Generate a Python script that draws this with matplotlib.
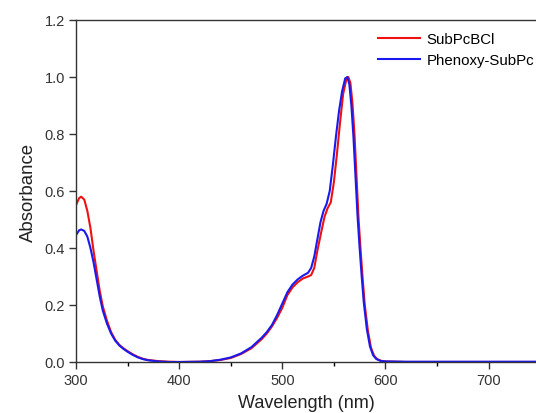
import matplotlib
matplotlib.use("Agg")
import matplotlib.pyplot as plt
from matplotlib.ticker import MultipleLocator

plt.rcParams["font.family"] = ["Liberation Sans", "DejaVu Sans"]

# SubPcBCl absorbance
wl_red = [300, 303, 305, 308, 311, 314, 317, 320, 323, 326, 330, 334, 338, 342,
          346, 350, 355, 360, 365, 370, 380, 390, 400, 420, 430, 440, 450, 460,
          470, 480, 485, 490, 495, 500, 505, 510, 515, 520, 525, 528, 531, 534,
          538, 541, 544, 547, 550, 553, 556, 559, 562, 564, 566, 568, 570, 572,
          574, 576, 578, 580, 583, 586, 589, 592, 596, 600, 620, 750]
abs_red = [0.55, 0.575, 0.58, 0.57, 0.53, 0.47, 0.39, 0.32, 0.25, 0.195, 0.145,
           0.105, 0.078, 0.06, 0.048, 0.038, 0.027, 0.018, 0.011, 0.007, 0.003,
           0.001, 0.0, 0.001, 0.003, 0.007, 0.014, 0.028, 0.048, 0.08, 0.1,
           0.125, 0.155, 0.19, 0.235, 0.262, 0.28, 0.293, 0.3, 0.305, 0.33,
           0.39, 0.46, 0.51, 0.54, 0.56, 0.63, 0.73, 0.84, 0.94, 0.99, 1.0,
           0.98, 0.91, 0.8, 0.65, 0.5, 0.39, 0.29, 0.2, 0.11, 0.05, 0.022,
           0.01, 0.004, 0.002, 0.0, 0.0]

# Phenoxy-SubPc absorbance
wl_blue = [300, 303, 305, 308, 311, 314, 317, 320, 323, 326, 330, 334, 338, 342,
           346, 350, 355, 360, 365, 370, 380, 390, 400, 420, 430, 440, 450, 460,
           470, 480, 485, 490, 495, 500, 505, 510, 515, 520, 525, 528, 531, 534,
           537, 540, 543, 546, 549, 552, 555, 558, 561, 563, 565, 567, 569, 571,
           573, 575, 577, 579, 582, 585, 588, 591, 595, 600, 620, 750]
abs_blue = [0.445, 0.462, 0.465, 0.46, 0.44, 0.4, 0.35, 0.29, 0.23, 0.18, 0.135,
            0.1, 0.075, 0.058, 0.046, 0.036, 0.025, 0.016, 0.01, 0.006, 0.002,
            0.0, 0.0, 0.001, 0.003, 0.008, 0.016, 0.03, 0.052, 0.085, 0.105,
            0.13, 0.165, 0.205, 0.245, 0.272, 0.29, 0.303, 0.313, 0.33, 0.37,
            0.43, 0.49, 0.53, 0.555, 0.6, 0.69, 0.79, 0.88, 0.95, 0.995, 1.0,
            0.975, 0.9, 0.79, 0.65, 0.51, 0.4, 0.3, 0.21, 0.115, 0.055, 0.024,
            0.011, 0.004, 0.002, 0.001, 0.001]

x_ticks = [300, 400, 500, 600, 700]
y_ticks = [0.0, 0.2, 0.4, 0.6, 0.8, 1.0, 1.2]

fig = plt.figure(figsize=(5.36, 4.14), dpi=100)
ax = fig.add_axes([0.1418, 0.1232, 0.8582, 0.8261])

ax.plot(wl_red, abs_red, color="#ee1111", lw=1.5, label="SubPcBCl")
ax.plot(wl_blue, abs_blue, color="#1a1aee", lw=1.5, label="Phenoxy-SubPc")

ax.set_xlim(300, 746)
ax.set_ylim(0, 1.2)
ax.set_xticks(x_ticks)
ax.set_yticks(y_ticks)
ax.set_yticklabels([f"{v:.1f}" for v in y_ticks])
ax.xaxis.set_minor_locator(MultipleLocator(50))
ax.tick_params(which="major", direction="out", length=5, width=1, labelsize=10.5,
               pad=3, colors="#333333")
ax.tick_params(which="minor", direction="out", length=3, width=1)
ax.spines["right"].set_visible(False)
for s in ["left", "bottom", "top"]:
    ax.spines[s].set_linewidth(1.0)
    ax.spines[s].set_color("#333333")

ax.set_xlabel("Wavelength (nm)", fontsize=13, color="#222222", labelpad=5)
ax.set_ylabel("Absorbance", fontsize=13.4, color="#222222", labelpad=5)

fig.legend(loc="upper left", bbox_to_anchor=(378 / 536, 1 - 33 / 414),
           frameon=False, fontsize=10.8, handlelength=2.8, handletextpad=0.45,
           labelspacing=0.5, borderpad=0, borderaxespad=0)

fig.savefig("out.png", dpi=100)
